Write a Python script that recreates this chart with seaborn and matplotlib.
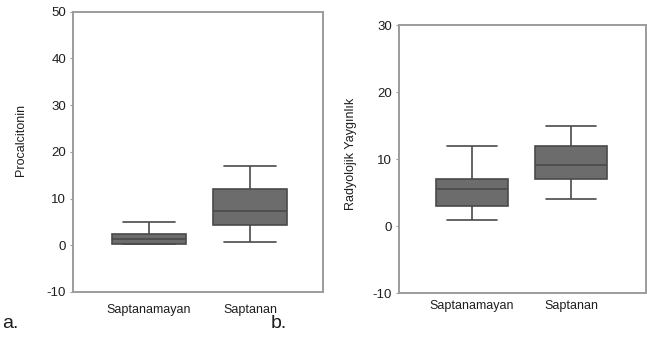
import numpy as np
import pandas as pd
import matplotlib
matplotlib.use("Agg")
import matplotlib.pyplot as plt
import seaborn as sns

# Data (five-number summaries: min, q1, median, q3, max)
groups = ["Saptanamayan", "Saptanan"]
pct_saptanamayan = [0.3, 0.3, 1.3, 2.4, 5.0]
pct_saptanan = [0.7, 4.4, 7.3, 12.0, 17.0]
rad_saptanamayan = [1.0, 3.0, 5.5, 7.0, 12.0]
rad_saptanan = [4.0, 7.0, 9.1, 12.0, 15.0]

df_a = pd.DataFrame({
    "grup": [groups[0]] * len(pct_saptanamayan) + [groups[1]] * len(pct_saptanan),
    "value": pct_saptanamayan + pct_saptanan,
})
df_b = pd.DataFrame({
    "grup": [groups[0]] * len(rad_saptanamayan) + [groups[1]] * len(rad_saptanan),
    "value": rad_saptanamayan + rad_saptanan,
})

sns.set_theme(style="white")
plt.rcParams["font.family"] = ["Liberation Sans", "DejaVu Sans"]
plt.rcParams["axes.unicode_minus"] = False

fig = plt.figure(figsize=(6.47, 3.38), dpi=100)
ax_a = fig.add_axes([73 / 647, 1 - 292 / 338, 250 / 647, 280.3 / 338])
ax_b = fig.add_axes([399 / 647, 1 - 293.3 / 338, 247 / 647, 268.3 / 338])

box_fill = "#6c6c6c"
line_col = "#4a4a4a"
spine_col = "#9c9c9c"
text_col = "#1e1e1e"

for ax, df, ylim, ylabel, xlim, xpad, lpad, ly in [
    (ax_a, df_a, (-10, 50), "Procalcitonin", (-0.75, 1.72), 9, 14, 0.543),
    (ax_b, df_b, (-10, 30), "Radyolojik Yaygınlık", (-0.74, 1.76), 5, 11, 0.52),
]:
    sns.boxplot(data=df, x="grup", y="value", order=groups, ax=ax,
                color=box_fill, linecolor=line_col, linewidth=1.2,
                width=0.73, whis=(0, 100), saturation=1, capwidths=0.51)
    ax.set_ylim(*ylim)
    ax.set_xlim(*xlim)
    ax.set_yticks(np.arange(ylim[0], ylim[1] + 1, 10))
    ax.set_xlabel("")
    ax.set_ylabel(ylabel, fontsize=9, color=text_col, labelpad=lpad)
    ax.yaxis.label.set_y(ly)
    for s in ax.spines.values():
        s.set_color(spine_col)
        s.set_linewidth(1.4)
    ax.tick_params(axis="y", labelsize=9.5, colors=text_col, length=2,
                   width=0.8, color=spine_col, pad=3, left=True)
    ax.tick_params(axis="x", labelsize=9, colors=text_col, length=0, pad=xpad)

fig.text(2 / 647, 1 - 328 / 338, "a.", fontsize=14, color=text_col, ha="left", va="baseline")
fig.text(271 / 647, 1 - 328 / 338, "b.", fontsize=14, color=text_col, ha="left", va="baseline")

fig.savefig("out.png", dpi=100, facecolor="white")
